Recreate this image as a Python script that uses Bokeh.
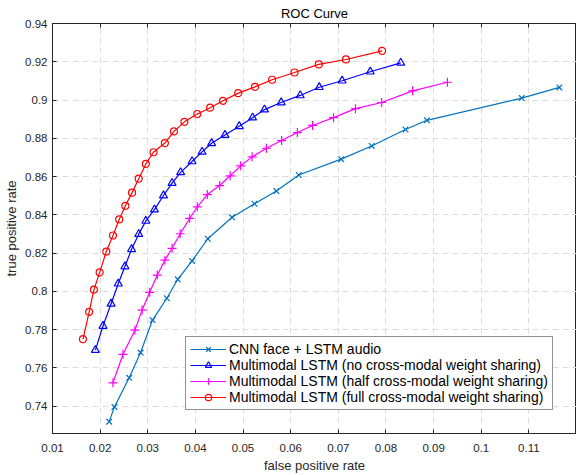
from bokeh.plotting import figure
from bokeh.models import LinearAxis, FixedTicker, Range1d
from bokeh.embed import file_html
from bokeh.resources import INLINE

# ---- data ----
labels = [
    "CNN face + LSTM audio",
    "Multimodal LSTM (no cross-modal weight sharing)",
    "Multimodal LSTM (half cross-modal weight sharing)",
    "Multimodal LSTM (full cross-modal weight sharing)",
]

fpr_cnn = [0.0219, 0.0230, 0.0261, 0.0285, 0.0310, 0.0340, 0.0363, 0.0393, 0.0426,
           0.0477, 0.0524, 0.0570, 0.0617, 0.0706, 0.0770, 0.0841, 0.0886, 0.1085, 0.1164]
tpr_cnn = [0.7319, 0.7396, 0.7548, 0.7680, 0.7850, 0.7964, 0.8063, 0.8159, 0.8275,
           0.8387, 0.8458, 0.8524, 0.8608, 0.8691, 0.8760, 0.8846, 0.8894, 0.9010, 0.9066]

fpr_no = [0.0190, 0.0206, 0.0223, 0.0238, 0.0252, 0.0266, 0.0281, 0.0296, 0.0314,
          0.0333, 0.0351, 0.0369, 0.0393, 0.0414, 0.0434, 0.0462, 0.0492, 0.0520,
          0.0545, 0.0580, 0.0620, 0.0660, 0.0708, 0.0767, 0.0831]
tpr_no = [0.7693, 0.7819, 0.7935, 0.8040, 0.8130, 0.8220, 0.8299, 0.8368, 0.8427,
          0.8501, 0.8566, 0.8622, 0.8679, 0.8729, 0.8774, 0.8817, 0.8863, 0.8908,
          0.8950, 0.8987, 0.9024, 0.9067, 0.9101, 0.9148, 0.9194]

fpr_half = [0.0227, 0.0248, 0.0273, 0.0288, 0.0304, 0.0320, 0.0336, 0.0351, 0.0368,
            0.0388, 0.0404, 0.0425, 0.0451, 0.0473, 0.0495, 0.0519, 0.0549, 0.0581,
            0.0614, 0.0646, 0.0690, 0.0736, 0.0791, 0.0856, 0.0929]
tpr_half = [0.7522, 0.7671, 0.7797, 0.7902, 0.7995, 0.8085, 0.8163, 0.8225, 0.8301,
            0.8381, 0.8442, 0.8506, 0.8553, 0.8604, 0.8656, 0.8703, 0.8748, 0.8788,
            0.8830, 0.8867, 0.8908, 0.8955, 0.8987, 0.9048, 0.9093]

fpr_full = [0.0164, 0.0177, 0.0187, 0.0199, 0.0213, 0.0227, 0.0240, 0.0253, 0.0267,
            0.0281, 0.0296, 0.0312, 0.0336, 0.0355, 0.0377, 0.0404, 0.0431, 0.0458,
            0.0490, 0.0525, 0.0561, 0.0608, 0.0659, 0.0716, 0.0792]
tpr_full = [0.7750, 0.7893, 0.8009, 0.8099, 0.8208, 0.8292, 0.8376, 0.8447, 0.8516,
            0.8589, 0.8666, 0.8727, 0.8775, 0.8836, 0.8886, 0.8927, 0.8960, 0.8996,
            0.9036, 0.9069, 0.9106, 0.9144, 0.9186, 0.9212, 0.9257]

x_ticks = [0.01, 0.02, 0.03, 0.04, 0.05, 0.06, 0.07, 0.08, 0.09, 0.1, 0.11]
x_tick_labels = ["0.01", "0.02", "0.03", "0.04", "0.05", "0.06", "0.07", "0.08", "0.09", "0.1", "0.11"]
y_ticks = [0.74, 0.76, 0.78, 0.8, 0.82, 0.84, 0.86, 0.88, 0.9, 0.92, 0.94]
y_tick_labels = ["0.74", "0.76", "0.78", "0.8", "0.82", "0.84", "0.86", "0.88", "0.9", "0.92", "0.94"]

FONT = "Liberation Sans"
AX = "#262626"

p = figure(width=576, height=475, output_backend="svg", toolbar_location=None,
           x_range=Range1d(0.01, 0.12), y_range=Range1d(0.7257, 0.94),
           min_border_left=52, min_border_right=0, min_border_top=23, min_border_bottom=38,
           title="ROC Curve")
p.background_fill_color = "white"
p.border_fill_color = "white"
p.outline_line_color = AX
p.outline_line_width = 1

p.title.align = "center"
p.title.text_font = FONT
p.title.text_font_size = "13px"
p.title.text_font_style = "normal"
p.title.text_color = "#000000"
p.title.standoff = 6


def style_axis(ax, ticks, tick_labels, show=True):
    ax.ticker = FixedTicker(ticks=ticks)
    ax.major_tick_in = 4
    ax.major_tick_out = 0
    ax.minor_tick_in = 0
    ax.minor_tick_out = 0
    ax.axis_line_color = AX
    ax.major_tick_line_color = AX
    ax.major_label_text_font = FONT
    if show:
        ax.major_label_overrides = dict(zip(ticks, tick_labels))
        ax.major_label_text_color = AX
        ax.major_label_text_font_size = "11.5px"
        ax.major_label_text_line_height = 1.0
    else:
        ax.major_label_text_color = None
        ax.major_label_text_font_size = "0px"
        ax.major_label_standoff = 0


style_axis(p.xaxis[0], x_ticks, x_tick_labels)
style_axis(p.yaxis[0], y_ticks, y_tick_labels)
p.xaxis[0].major_label_standoff = 10
p.yaxis[0].major_label_standoff = 5
p.xaxis.axis_label = "false positive rate"
p.yaxis.axis_label = "true positive rate"
for ax in (p.xaxis[0], p.yaxis[0]):
    ax.axis_label_text_font = FONT
    ax.axis_label_text_font_size = "13px"
    ax.axis_label_text_font_style = "normal"
    ax.axis_label_text_color = AX
    ax.axis_label_text_line_height = 1.0
p.xaxis[0].axis_label_standoff = 3
p.yaxis[0].axis_label_standoff = 3

top = LinearAxis()
style_axis(top, x_ticks, x_tick_labels, show=False)
p.add_layout(top, "above")

for g in (p.xgrid[0], p.ygrid[0]):
    g.grid_line_color = "#dcdcdc"
    g.grid_line_dash = "6 4"
    g.grid_line_width = 1

series = [
    (fpr_cnn, tpr_cnn, "#0072BD", "x", 8),
    (fpr_no, tpr_no, "#0000FF", "triangle", 8),
    (fpr_half, tpr_half, "#FF00FF", "cross", 9),
    (fpr_full, tpr_full, "#FF0000", "circle", 7),
]
for (xs, ys, col, mk, sz), lab in zip(series, labels):
    p.line(xs, ys, line_color=col, line_width=1.2, legend_label=lab)
    p.scatter(xs, ys, marker=mk, size=sz, line_color=col, fill_color=None,
              line_width=1.2, legend_label=lab)

lg = p.legend[0]
lg.location = "bottom_right"
lg.margin = 23
lg.border_line_color = AX
lg.border_line_width = 1
lg.background_fill_color = "white"
lg.background_fill_alpha = 1
lg.label_text_font = FONT
lg.label_text_font_size = "14px"
lg.label_text_color = "#000000"
lg.label_height = 16
lg.glyph_height = 16
lg.glyph_width = 36
lg.spacing = 0
lg.padding = 4
lg.label_standoff = 3

open("out.html", "w").write(file_html(p, INLINE))
